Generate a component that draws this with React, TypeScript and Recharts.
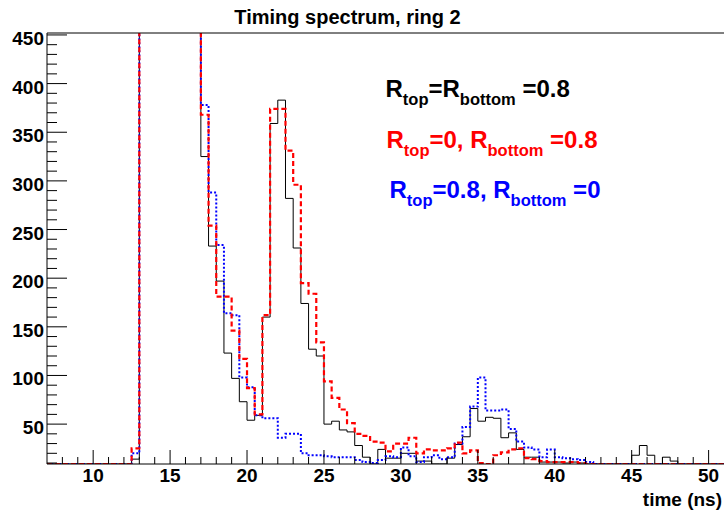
import React from 'react';
import { LineChart, Line, XAxis, YAxis } from 'recharts';

// Bin low edges (ns), 0.5 ns bins; final upper edge appended
const binEdges: number[] = [
  7, 7.5, 8, 8.5, 9, 9.5, 10, 10.5, 11, 11.5, 12, 12.5, 13, 13.5, 14, 14.5, 15, 15.5, 16, 16.5,
  17, 17.5, 18, 18.5, 19, 19.5, 20, 20.5, 21, 21.5, 22, 22.5, 23, 23.5, 24, 24.5, 25, 25.5, 26, 26.5,
  27, 27.5, 28, 28.5, 29, 29.5, 30, 30.5, 31, 31.5, 32, 32.5, 33, 33.5, 34, 34.5, 35, 35.5, 36, 36.5,
  37, 37.5, 38, 38.5, 39, 39.5, 40, 40.5, 41, 41.5, 42, 42.5, 43, 43.5, 44, 44.5, 45, 45.5, 46, 46.5,
  47, 47.5, 48, 48.5, 49, 49.5, 50, 50.5, 51,
];

// R_top = R_bottom = 0.8 (black, solid)
const blackCounts: number[] = [
  0, 0, 0, 0, 0, 0, 0, 0, 0, 0, 0, 14, 1400, 3800, 4200, 3100, 2200, 1500, 1000, 620,
  325, 233, 197, 123, 97, 73, 54, 59, 160, 359, 383, 282, 231, 174, 127, 120, 50, 53, 44, 42,
  28, 16, 5, 24, 15, 15, 20, 20, 12, 12, 5, 5, 15, 29, 37, 66, 53, 57, 56, 36,
  41, 24, 16, 16, 11, 11, 11, 10, 11, 10, 3, 2, 0, 0, 0, 0, 18, 28, 18, 3,
  16, 12, 2, 0, 0, 0, 0, 0,
];

// R_top = 0, R_bottom = 0.8 (red, dashed)
const redCounts: number[] = [
  0, 0, 0, 0, 0, 0, 0, 0, 0, 0, 0, 25, 1300, 3500, 4000, 3000, 2100, 1400, 950, 600,
  368, 254, 181, 181, 146, 117, 87, 60, 162, 374, 374, 331, 296, 195, 184, 134, 94, 77, 65, 51,
  40, 38, 32, 31, 22, 30, 30, 36, 20, 24, 23, 23, 25, 31, 20, 23, 10, 8, 18, 21,
  24, 25, 15, 14, 12, 11, 11, 11, 11, 10, 5, 0, 0, 0, 0, 0, 0, 0, 0, 0,
  0, 0, 0, 0, 0, 0, 0, 0,
];

// R_top = 0.8, R_bottom = 0 (blue, dotted)
const blueCounts: number[] = [
  0, 0, 0, 0, 0, 0, 0, 0, 0, 0, 0, 20, 1350, 3600, 4100, 3050, 2150, 1450, 980, 610,
  378, 288, 234, 164, 162, 98, 88, 59, 56, 56, 36, 40, 40, 20, 18, 18, 17, 16, 16, 16,
  13, 11, 10, 13, 17, 16, 26, 17, 11, 16, 18, 14, 16, 30, 47, 68, 98, 64, 64, 65,
  45, 32, 26, 24, 16, 24, 16, 15, 14, 13, 11, 0, 0, 0, 0, 0, 0, 0, 0, 0,
  0, 0, 0, 0, 0, 0, 0, 0,
];

const yTicks: number[] = [
  10, 20, 30, 40, 50, 60, 70, 80, 90, 100, 110, 120, 130, 140, 150, 160, 170, 180, 190, 200,
  210, 220, 230, 240, 250, 260, 270, 280, 290, 300, 310, 320, 330, 340, 350, 360, 370, 380, 390, 400,
  410, 420, 430, 440, 450,
];
const yMajorLabels: number[] = [50, 100, 150, 200, 250, 300, 350, 400, 450];
const xTicks: number[] = [
  8, 9, 10, 11, 12, 13, 14, 15, 16, 17, 18, 19, 20, 21, 22, 23, 24, 25, 26, 27, 28, 29,
  30, 31, 32, 33, 34, 35, 36, 37, 38, 39, 40, 41, 42, 43, 44, 45, 46, 47, 48, 49, 50,
];
const xMajorLabels: number[] = [10, 15, 20, 25, 30, 35, 40, 45, 50];

const Y_MIN = 9;
const Y_MAX = 452;
const X_MIN = 7;
const X_MAX = 51;

const FONT = '"Liberation Sans", Arial, Helvetica, sans-serif';

// ROOT draws underflowing bins at the frame minimum
const floorMin = (v: number) => Math.max(v, Y_MIN);
const last = blackCounts.length - 1;
const rows = binEdges.map((x, i) => {
  const k = Math.min(i, last);
  return {
    x,
    black: floorMin(blackCounts[k]),
    red: floorMin(redCounts[k]),
    blue: floorMin(blueCounts[k]),
  };
});

const YTick = (props: any) => {
  const { x, y, payload } = props;
  const v = payload.value as number;
  const major = yMajorLabels.includes(v);
  return (
    <g>
      <line x1={x} x2={x + (major ? 20 : 10)} y1={y} y2={y} stroke="#000" strokeWidth={1} />
      {major && (
        <text x={x - 3} y={y + 10} textAnchor="end" fontSize={19} fontWeight="bold" fontFamily={FONT} fill="#000">
          {v}
        </text>
      )}
    </g>
  );
};

const XTick = (props: any) => {
  const { x, y, payload } = props;
  const v = payload.value as number;
  const major = xMajorLabels.includes(v);
  return (
    <g>
      <line x1={x} x2={x} y1={y} y2={y - (major ? 14 : 7)} stroke="#000" strokeWidth={1} />
      {major && (
        <text x={x} y={y + 18} textAnchor="middle" fontSize={19} fontWeight="bold" fontFamily={FONT} fill="#000">
          {v}
        </text>
      )}
    </g>
  );
};

const MAIN = 24;
const SUB = 16.5;
const SUBDY = 8;

export default function App() {
  return (
    <div style={{ position: 'absolute', left: 0, top: 0, width: 724, height: 512, overflow: 'hidden', background: '#fff' }}>
      <LineChart width={740} height={512} data={rows} margin={{ top: 32, right: 16, bottom: 47, left: 46 }}>
        <XAxis
          dataKey="x"
          type="number"
          domain={[X_MIN, X_MAX]}
          ticks={xTicks}
          interval={0}
          height={1}
          tickSize={0}
          tickMargin={0}
          tickLine={false}
          tick={(p: any) => <XTick {...p} />}
          axisLine={{ stroke: '#000', strokeWidth: 1 }}
          allowDataOverflow
        />
        <XAxis
          xAxisId="top"
          orientation="top"
          dataKey="x"
          type="number"
          domain={[X_MIN, X_MAX]}
          height={1}
          tick={false}
          tickLine={false}
          axisLine={{ stroke: '#000', strokeWidth: 1 }}
        />
        <YAxis
          type="number"
          domain={[Y_MIN, Y_MAX]}
          ticks={yTicks}
          interval={0}
          width={1}
          tickSize={0}
          tickMargin={0}
          tickLine={false}
          tick={(p: any) => <YTick {...p} />}
          axisLine={{ stroke: '#000', strokeWidth: 1 }}
          allowDataOverflow
        />
        <Line dataKey="black" type="stepAfter" stroke="#000000" strokeWidth={1} dot={false} isAnimationActive={false} />
        <Line dataKey="blue" type="stepAfter" stroke="#0000ff" strokeWidth={2} strokeDasharray="2 2" dot={false} isAnimationActive={false} />
        <Line dataKey="red" type="stepAfter" stroke="#ff0000" strokeWidth={2.2} strokeDasharray="5 3" dot={false} isAnimationActive={false} />
      </LineChart>
      <svg width={724} height={512} style={{ position: 'absolute', left: 0, top: 0, pointerEvents: 'none' }}>
        <text x={347.5} y={24} textAnchor="middle" fontSize={20} fontWeight="bold" fontFamily={FONT} fill="#000">
          Timing spectrum, ring 2
        </text>
        <text x={722} y={506} textAnchor="end" fontSize={19} fontWeight="bold" fontFamily={FONT} fill="#000">
          time (ns)
        </text>
        <text x={385.5} y={97} fontWeight="bold" fontFamily={FONT} fill="#000">
          <tspan fontSize={MAIN}>R</tspan>
          <tspan fontSize={SUB} dy={SUBDY}>top</tspan>
          <tspan fontSize={MAIN} dy={-SUBDY}>=R</tspan>
          <tspan fontSize={SUB} dy={SUBDY}>bottom</tspan>
          <tspan fontSize={MAIN} dy={-SUBDY}>{' =0.8'}</tspan>
        </text>
        <text x={386.5} y={148} fontWeight="bold" fontFamily={FONT} fill="#ff0000">
          <tspan fontSize={MAIN}>R</tspan>
          <tspan fontSize={SUB} dy={SUBDY}>top</tspan>
          <tspan fontSize={MAIN} dy={-SUBDY}>=0, R</tspan>
          <tspan fontSize={SUB} dy={SUBDY}>bottom</tspan>
          <tspan fontSize={MAIN} dy={-SUBDY}>{' =0.8'}</tspan>
        </text>
        <text x={389.5} y={198} fontWeight="bold" fontFamily={FONT} fill="#0000ff">
          <tspan fontSize={MAIN}>R</tspan>
          <tspan fontSize={SUB} dy={SUBDY}>top</tspan>
          <tspan fontSize={MAIN} dy={-SUBDY}>=0.8, R</tspan>
          <tspan fontSize={SUB} dy={SUBDY}>bottom</tspan>
          <tspan fontSize={MAIN} dy={-SUBDY}>{' =0'}</tspan>
        </text>
      </svg>
    </div>
  );
}
